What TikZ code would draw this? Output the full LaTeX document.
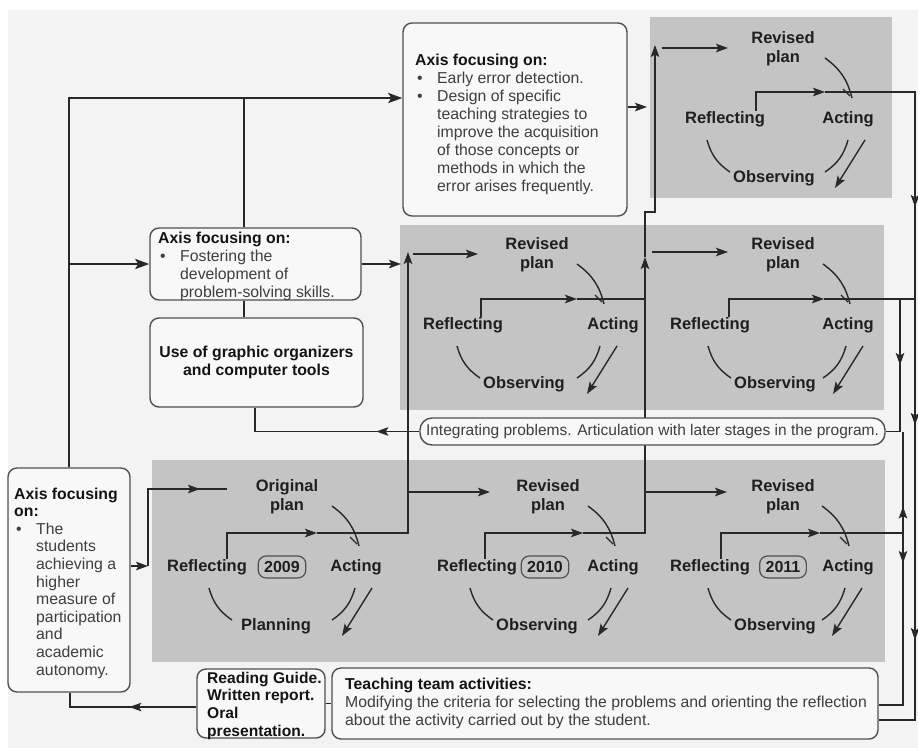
\documentclass[tikz,border=0pt]{standalone}
\usepackage{fontspec}
\setmainfont{Liberation Sans}
\usetikzlibrary{arrows.meta,decorations.markings,calc}
\pgfdeclarelayer{bg}
\pgfdeclarelayer{lines}
\pgfsetlayers{bg,lines,main}
\definecolor{bgc}{RGB}{243,243,243}
\definecolor{panel}{RGB}{196,196,196}
\definecolor{boxf}{RGB}{248,248,248}
\definecolor{edge}{RGB}{80,80,80}
\definecolor{ln}{RGB}{40,40,40}
\definecolor{txt}{RGB}{62,62,62}
\newcommand\hd[1]{{\color{black!92}\bfseries #1}}
\newcommand\bl{\makebox[22pt][l]{\hspace{2pt}\textbullet}}
\newcommand\ind{\hspace*{22pt}}
\tikzset{
  Ah/.tip={Stealth[length=12pt,width=8.5pt,inset=2.5pt]},
  conn/.style={draw, color=ln, line width=1.4pt},
  thickconn/.style={draw, color=ln, line width=2.6pt},
  arcst/.style={draw, color=ln, line width=1.4pt},
  box/.style={draw=edge, line width=1.4pt, fill=boxf, rounded corners=9pt},
  lbl/.style={font=\fontsize{16.5}{19}\selectfont\bfseries, text=black!88, inner sep=0pt, align=center},
  body/.style={font=\fontsize{15.8}{18}\selectfont, text=txt, inner sep=0pt, align=left, anchor=north west},
  yr/.style={draw=edge, line width=1.2pt, rounded corners=8pt, fill=panel, font=\fontsize{16}{18}\selectfont\bfseries, text=black!88, inner xsep=6pt, inner ysep=0pt, minimum height=22pt},
  marr/.style={postaction={decorate,decoration={markings,mark=at position #1 with {\arrow{Ah}}}}},
  marrr/.style={postaction={decorate,decoration={markings,mark=at position #1 with {\arrowreversed{Ah}}}}},
}
% #1 id, #2 plan text, #3 bottom text, #4 Px, #5 Rx, #6 Ax, #7 Ox, #8 row y, #9 arc base x
\newcommand\cyc[9]{%
  \node[lbl] (#1P) at ({#4},{#8-70}) {#2};
  \node[lbl] (#1R) at ({#5},{#8}) {Reflecting};
  \node[lbl] (#1A) at ({#6},{#8}) {Acting};
  \node[lbl] (#1O) at ({#7},{#8+59}) {#3};
  \draw[arcst] ({#9-23},{#8-61}) to[bend left=20] ({#9+4},{#8-21});
  \draw[arcst] ({#9-5},{#8-30}) -- ({#9+2},{#8-23});
  \draw[arcst] ({#7-67},{#8+21}) to[bend right=20] ({#7-44},{#8+53});
  \draw[arcst] ({#9},{#8+21}) to[bend left=20] ({#9-23},{#8+53});
  \draw[arcst,-{Stealth[length=12pt,width=8.5pt,inset=2.5pt]}] ({#9+17},{#8+21}) -- ({#9-13},{#8+69});
}
\begin{document}
\begin{tikzpicture}[x=1pt,y=-1pt]
\useasboundingbox (0,0) rectangle (918,748);
\begin{pgfonlayer}{bg}
  \fill[white] (0,0) rectangle (918,748);
  \fill[bgc] (8,10) rectangle (918,748);
  \fill[panel] (650,17) rectangle (892,198);
  \fill[panel] (400,225) rectangle (884,410);
  \fill[panel] (152,460) rectangle (885,662);
\end{pgfonlayer}

% ---------- boxes ----------
\node[box, minimum width=224pt, minimum height=193pt] (tb) at (515,119.5) {};
\node[body] (tbt) at (415,54) {\hd{Axis focusing on:}\\
  \bl Early error detection.\\
  \bl Design of specific\\
  \ind teaching strategies to\\
  \ind improve the acquisition\\
  \ind of those concepts or\\
  \ind methods in which the\\
  \ind error arises frequently.};

\node[box, minimum width=211pt, minimum height=72pt] (fb) at (255.5,264) {};
\node[body] (fbt) at (158,231.5) {\hd{Axis focusing on:}\\
  \bl Fostering the\\
  \ind development of\\
  \ind problem-solving skills.};

\node[box, minimum width=213pt, minimum height=89pt, align=center,
      font=\fontsize{15.8}{17.5}\selectfont] (ub) at (256.5,362.5)
  {\hd{Use of graphic organizers}\\ \hd{and computer tools}};

\node[box, rounded corners=12pt, minimum width=465pt, minimum height=27pt, inner sep=1pt,
      font=\fontsize{15.5}{18}\selectfont, text=txt] (ib) at (652.5,431.5)
  {Integrating problems. Articulation with later stages in the program.};

\node[box, minimum width=122pt, minimum height=224pt] (lb) at (69,580) {};
\node[body, font=\fontsize{15.8}{17.6}\selectfont] (lbt) at (14,487.5) {\hd{Axis focusing}\\
  \hd{on:}\\
  \bl The\\
  \ind students\\
  \ind achieving a\\
  \ind higher\\
  \ind measure of\\
  \ind participation\\
  \ind and\\
  \ind academic\\
  \ind autonomy.};

\node[box, minimum width=128pt, minimum height=69pt] (rg) at (261,703.5) {};
\node[body, font=\fontsize{15.6}{17.7}\selectfont] (rgt) at (207,671.5) {\hd{Reading Guide.}\\
  \hd{Written report.}\\
  \hd{Oral}\\
  \hd{presentation.}};

\node[box, minimum width=546pt, minimum height=71pt] (tt) at (605,703.5) {};
\node[body] (ttt) at (345,677.5) {\hd{Teaching team activities:}\\
  Modifying the criteria for selecting the problems and orienting the reflection\\
  about the activity carried out by the student.};

% ---------- cycles ----------
\cyc{T}{Revised\\plan}{Observing}{783}{725}{848}{774}{119}{848}
\cyc{ML}{Revised\\plan}{Observing}{537}{463}{613}{524}{325}{600}
\cyc{MR}{Revised\\plan}{Observing}{783}{710}{848}{775}{325}{846}
\cyc{BA}{Original\\plan}{Planning}{287}{207}{356}{276}{567}{355}
\cyc{BB}{Revised\\plan}{Observing}{548}{477}{613}{537}{567}{611}
\cyc{BC}{Revised\\plan}{Observing}{783}{710}{848}{775}{567}{845}
\node[yr] (y09) at (282,567) {2009};
\node[yr] (y10) at (545,567) {2010};
\node[yr] (y11) at (783,567) {2011};

% ---------- connectors ----------
\begin{pgfonlayer}{lines}
  % thick left lines
  \coordinate (c1) at (69,98);
  \coordinate (c2) at (244,98);
  \draw[thickconn,-{Stealth[length=14pt,width=10pt,inset=3pt]}] (lb.north) -- (c1) -- (tb.west |- c1);
  \draw[thickconn,-{Stealth[length=14pt,width=10pt,inset=3pt]}] (c1 |- fb.west) -- (fb.west);
  \draw[conn] (c2) -- (c2 |- fb.north);
  \draw[conn] (c2 |- fb.south) -- (c2 |- ub.north);
  \coordinate (mlin) at (401,264);
  \draw[conn,-Ah] (fb.east) -- (mlin);
  % integrating -> use
  \coordinate (c3) at (255,431.5);
  \draw[conn, marr=43pt] (ib.west) -- (c3) -- (c3 |- ub.south);
  % left box -> 2009
  \coordinate (c4) at (148,566);
  \coordinate (c5) at (148,489);
  \coordinate (p09in) at (227,489);
  \draw[conn,-Ah] (lb.east |- c4) -- (c4);
  \draw[conn, marr=129pt] (c4) -- (c5) -- (p09in);
  % reading -> left box
  \coordinate (c6) at (70,707);
  \draw[conn, marr=67pt] (rg.west |- c6) -- (c6) -- (c6 |- lb.south);
  \draw[conn] (rg.east) -- (tt.west);
  % top box -> top cycle
  \coordinate (tbo) at (647,107);
  \draw[conn,-Ah] (tb.east |- tbo) -- (tbo);
  % top cycle output and outer right line
  \coordinate (Tl) at (756,92);
  \coordinate (Tt) at (825,92);
  \coordinate (Rt) at (915,92);
  \coordinate (Rb) at (915,720);
  \draw[conn,-Ah] (TR.north -| Tl) -- (Tl) -- (Tt);
  \draw[conn, marr=205pt, marr=423pt, marr=638pt] (Tt) -- (Rt) -- (Rb) -- (tt.east |- Rb);
  % middle right output
  \coordinate (MRl) at (729,299);
  \coordinate (MRt) at (824,299);
  \coordinate (MRe) at (915,299);
  \coordinate (in1) at (900,299);
  \draw[conn,-Ah] (MRR.north -| MRl) -- (MRl) -- (MRt);
  \draw[conn] (MRt) -- (MRe);
  \draw[conn, marr=66pt] (in1) -- (in1 |- ib.east) -- (ib.east);
  \coordinate (in3) at (903,431.5);
  \coordinate (in4) at (903,705);
  \draw[conn, marrr=75pt, marr=131.5pt] (in3) -- (in4) -- (tt.east |- in4);
  % 2011 output
  \coordinate (BCl) at (721,533);
  \coordinate (BCt) at (820,533);
  \coordinate (BCe) at (903,533);
  \draw[conn,-Ah] (BCR.north -| BCl) -- (BCl) -- (BCt);
  \draw[conn] (BCt) -- (BCe);
  % 2010 output and long vertical
  \coordinate (BBl) at (485,533);
  \coordinate (BBt) at (583,533);
  \coordinate (v1) at (645,533);
  \coordinate (v2) at (645,257);
  \coordinate (v3) at (645,212);
  \coordinate (v4) at (655,212);
  \coordinate (v5) at (655,45);
  \draw[conn,-Ah] (BBR.north -| BBl) -- (BBl) -- (BBt);
  \draw[conn,-Ah] (BBt) -- (v1) -- (v2);
  \draw[conn,-Ah] (v2) -- (v3) -- (v4) -- (v5);
  \coordinate (bca) at (645,492);
  \coordinate (bcin) at (727,492);
  \draw[conn,-Ah] (bca) -- (bcin);
  \coordinate (mra) at (652,252);
  \coordinate (mrin) at (728,252);
  \draw[conn,-Ah] (mra) -- (mrin);
  \coordinate (ta) at (662,48);
  \coordinate (tin) at (728,48);
  \draw[conn,-Ah] (ta) -- (tin);
  % middle left output
  \coordinate (MLl) at (481,299);
  \coordinate (MLt) at (577,299);
  \coordinate (MLe) at (645,299);
  \draw[conn,-Ah] (MLR.north -| MLl) -- (MLl) -- (MLt);
  \draw[conn] (MLt) -- (MLe);
  % 2009 output and vertical at 408
  \coordinate (BAl) at (227,533);
  \coordinate (BAt) at (317,533);
  \coordinate (w1) at (408,533);
  \coordinate (w2) at (408,252);
  \coordinate (w3) at (408,492);
  \coordinate (bbin) at (490,492);
  \coordinate (w4) at (413,254);
  \coordinate (mlin2) at (478,254);
  \draw[conn,-Ah] (BAR.north -| BAl) -- (BAl) -- (BAt);
  \draw[conn,-Ah] (BAt) -- (w1) -- (w2);
  \draw[conn,-Ah] (w3) -- (bbin);
  \draw[conn,-Ah] (w4) -- (mlin2);
\end{pgfonlayer}
\end{tikzpicture}
\end{document}
